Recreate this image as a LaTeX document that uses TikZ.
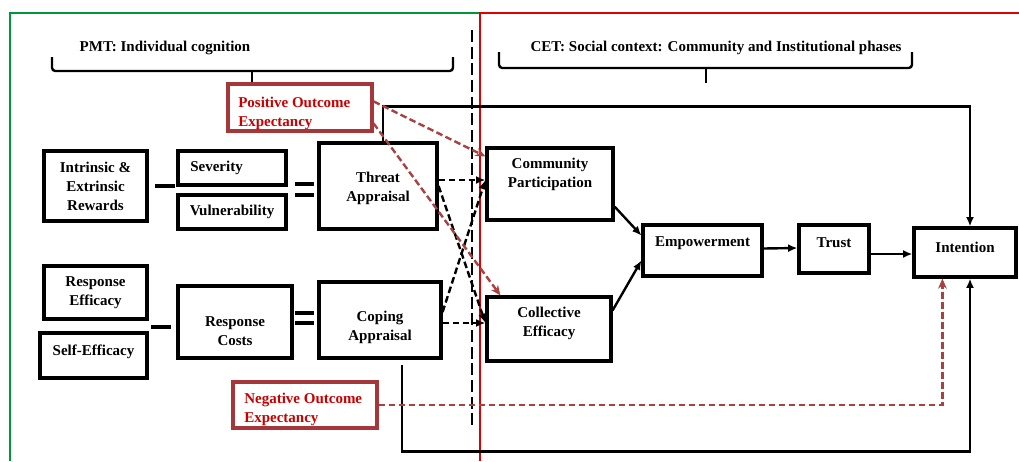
\documentclass[tikz,border=0pt]{standalone}
\usepackage{fontspec}
\setmainfont{Liberation Serif}
\usetikzlibrary{arrows.meta,calc,fit}
\definecolor{frgreen}{RGB}{0,150,60}
\definecolor{frred}{RGB}{225,0,0}
\definecolor{oebord}{RGB}{165,55,58}
\definecolor{oetext}{RGB}{200,0,0}
\definecolor{oearrow}{RGB}{170,65,65}
\begin{document}
\begin{tikzpicture}[x=0.75pt,y=-0.75pt,
  box/.style={draw=black, line width=2.4pt, inner sep=0pt, fit={#1}},
  oebox/.style={draw=oebord, line width=2.4pt, inner sep=0pt, fit={#1}},
  lbl/.style={font=\fontsize{11.25}{14.25}\selectfont\bfseries, align=center, inner sep=0pt},
  oelbl/.style={font=\fontsize{11.25}{14}\selectfont\bfseries, text=oetext, align=left, inner sep=0pt, anchor=north west},
  brace/.style={line width=1.8pt, rounded corners=2.5pt},
  sym/.style={line width=2.8pt},
  con/.style={line width=1.8pt, -{Latex[length=7pt,width=6pt]}},
  dcon/.style={line width=1.8pt, dash pattern=on 5pt off 2.5pt, -{Latex[length=7pt,width=6pt]}},
  rcon/.style={draw=oearrow, line width=1.8pt, dash pattern=on 5pt off 2.5pt, -{Stealth[length=7.5pt,width=6.5pt]}},
  divider/.style={line width=1.8pt, dash pattern=on 9pt off 3.5pt}
]
\useasboundingbox (0,0) rectangle (1019,461);
% frames
\draw[frgreen, line width=2.2pt] (10,461) -- (10,13) -- (480,13);
\draw[frred, line width=2.2pt] (480,461) -- (480,13) -- (1019,13);
\draw[divider] (472,30) -- (472,428);
% braces and headings
\draw[brace] (52,57) -- (52,71) -- (453,71) -- (453,57);
\draw[brace] (252,71) -- (252,83);
\node[lbl] (pmt) at (165,48) {PMT: Individual cognition};
\draw[brace] (499,52) -- (499,68) -- (912,68) -- (912,52);
\draw[brace] (706,68) -- (706,83);
\node[lbl] (cet) at (716,48) {CET: Social context: Community and Institutional phases};
% PMT boxes
\node[box={(44,151)(147,221)}] (rew) {};
\node[lbl] (rew-t) at (95.5,186) {Intrinsic \&\\Extrinsic\\Rewards};
\node[box={(178,151)(286,185)}] (sev) {};
\node[lbl, anchor=west] (sev-t) at (190,168) {Severity};
\node[box={(178,195)(286,229)}] (vul) {};
\node[lbl] (vul-t) at (232,212) {Vulnerability};
\node[box={(319,143)(437,229)}] (ta) {};
\node[lbl] (ta-t) at (378,188) {Threat\\Appraisal};
\node[box={(44,266)(147,319)}] (re) {};
\node[lbl] (re-t) at (95.5,293) {Response\\Efficacy};
\node[box={(40,333)(147,378)}] (se) {};
\node[lbl] (se-t) at (93.5,352) {Self-Efficacy};
\node[box={(178,286)(292,358)}] (rc) {};
\node[lbl] (rc-t) at (235,331) {Response\\Costs};
\node[box={(319,282)(441,358)}] (ca) {};
\node[lbl] (ca-t) at (380,327.5) {Coping\\Appraisal};
% CET boxes
\node[box={(487,148)(613,220)}] (cp) {};
\node[lbl] (cp-t) at (550,174.5) {Community\\Participation};
\node[box={(487,297)(611,361)}] (ce) {};
\node[lbl] (ce-t) at (549,323) {Collective\\Efficacy};
\node[box={(643,225)(762,276)}] (emp) {};
\node[lbl] (emp-t) at (702.5,243) {Empowerment};
\node[box={(799,225)(869,273)}] (tru) {};
\node[lbl] (tru-t) at (834,243) {Trust};
\node[box={(914,228)(1016,277)}] (int) {};
\node[lbl] (int-t) at (965,247) {Intention};
% outcome expectancy boxes
\node[oebox={(228,84)(372,131)}] (poe) {};
\begin{scope}
\clip ($(poe.south west)+(0,-3.5)$) rectangle (poe.north east);
\node[oelbl] (poe-t) at (238,97) {Positive Outcome\\Expectancy};
\end{scope}
\node[oebox={(233,382)(377,428)}] (noe) {};
\begin{scope}
\clip ($(noe.south west)+(0,-4.5)$) rectangle (noe.north east);
\node[oelbl] (noe-t) at (244,393) {Negative Outcome\\Expectancy};
\end{scope}
% symbols
\draw[sym] ($(rew.east)+(6,0)$) -- ++(20,0);
\draw[sym] ($(ta.west)+(-22,-2)$) -- ++(19,0);
\draw[sym] ($(ta.west)+(-22,9)$) -- ++(19,0);
\draw[sym] ($(rc.west)+(-25,5)$) -- ++(20,0);
\draw[sym] ($(ca.west)+(-22,-7)$) -- ++(19,0);
\draw[sym] ($(ca.west)+(-22,3)$) -- ++(19,0);
% dashed connectors
\draw[dcon] ($(ta.east)+(0,-6)$) -- ($(cp.west)+(0,-4)$);
\draw[dcon] (ta.east) -- ($(ce.west)+(0,-6)$);
\draw[dcon] ($(ca.east)+(0,-8)$) -- ($(cp.west)+(0,-4)$);
\draw[dcon] ($(ca.east)+(0,3)$) -- ($(ce.west)+(0,-6)$);
% solid connectors
\draw[con] ($(cp.south east)+(0,-15)$) -- ($(emp.west)+(0,-15)$);
\draw[con] ($(ce.north east)+(0,15)$) -- ($(emp.west)+(0,10)$);
\draw[con] ($(emp.east)+(0,-2)$) -- ($(tru.west)+(0,-1)$);
\draw[con] ($(tru.east)+(0,5)$) -- ($(int.west)+(0,1.5)$);
\draw[con] ($(ta.north)+(5,0)$) |- ($(int.north)+(5,-120)$) -- ($(int.north)+(5,0)$);
\draw[con] ($(ca.south)+(22,5)$) |- ($(int.south)+(5,173)$) -- ($(int.south)+(5,0)$);
% red dashed connectors
\draw[rcon] ($(poe.north east)+(0,19)$) -- ($(cp.north west)+(0,10)$);
\draw[rcon] ($(poe.north east)+(0,41)$) -- ($(ce.north west)+(15,0)$);
\draw[rcon] (noe.east) -| ($(int.south west)+(30,0)$);
\end{tikzpicture}
\end{document}
